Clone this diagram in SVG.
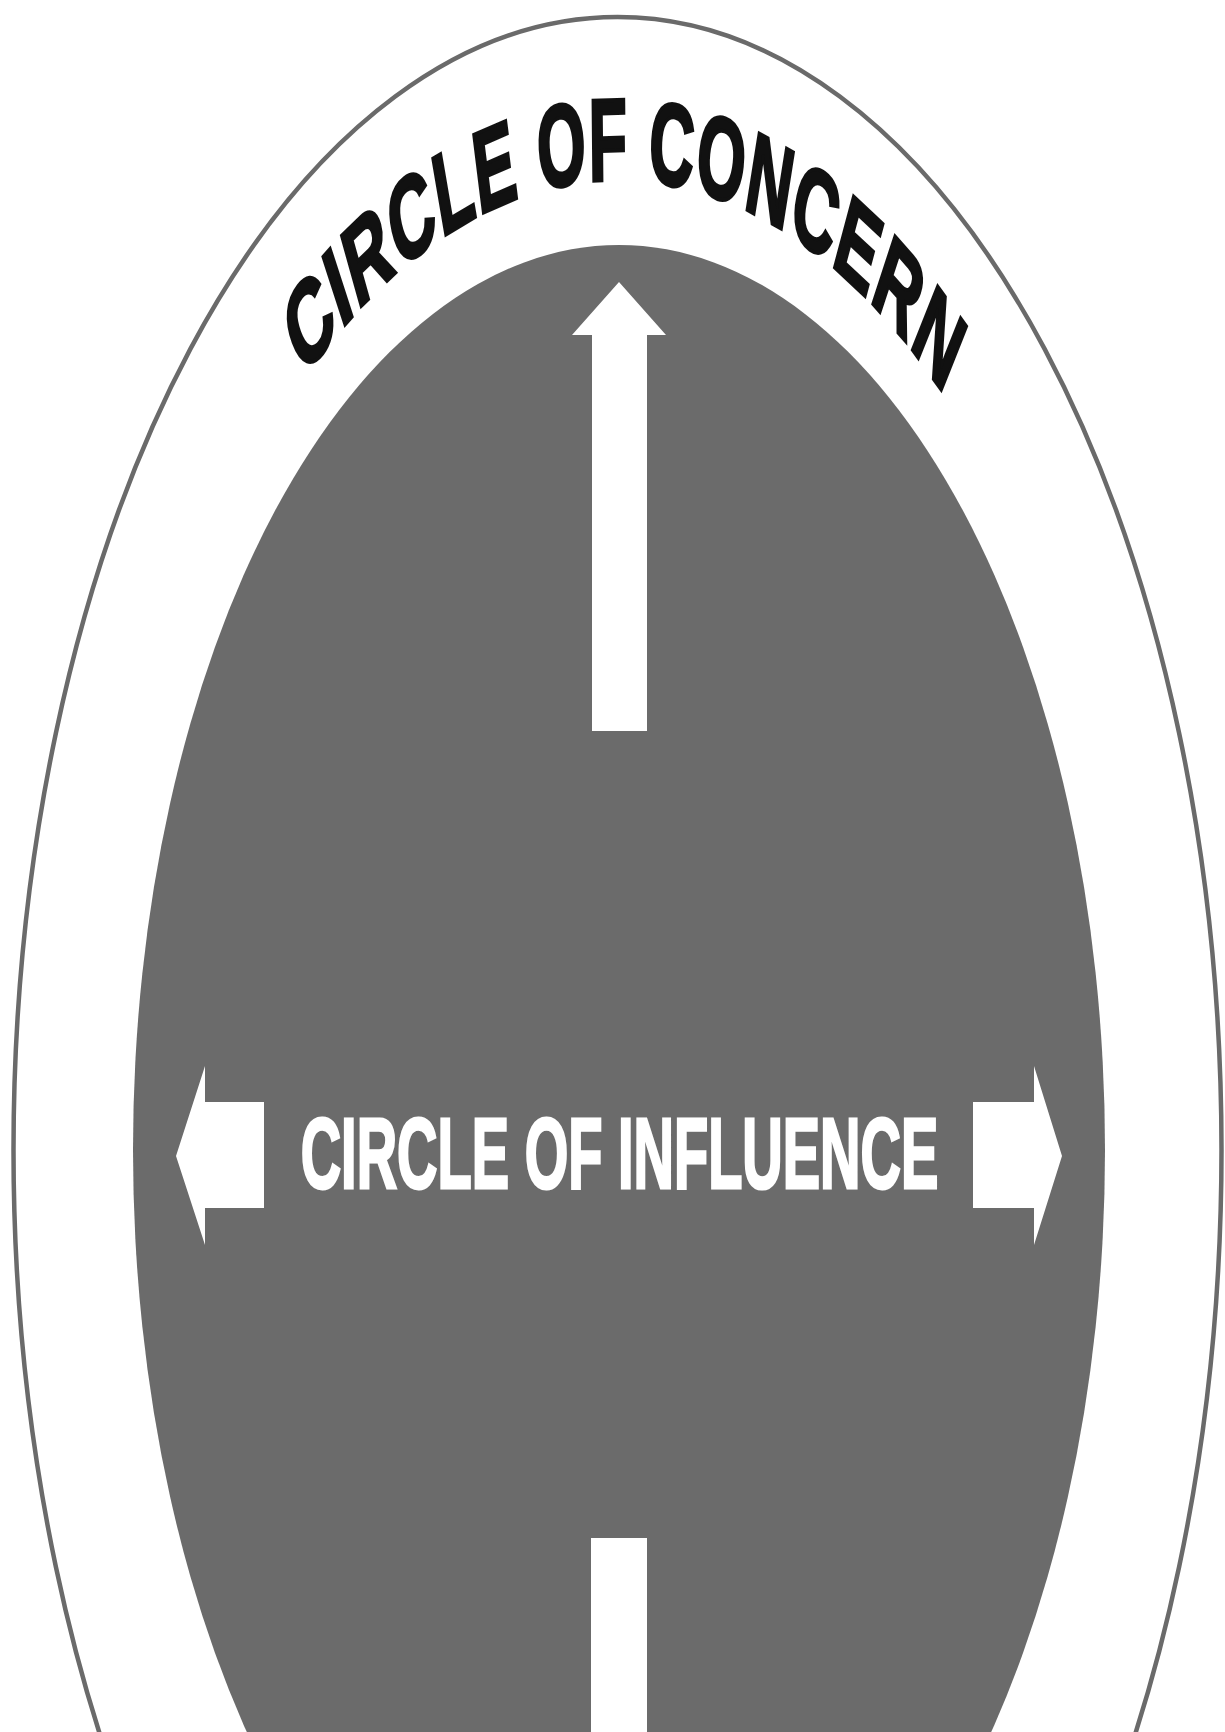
<svg xmlns="http://www.w3.org/2000/svg" width="1225" height="1732" viewBox="0 0 1225 1732">
  <defs>
    <style>
      .outer { fill: #ffffff; stroke: #6a6a6a; stroke-width: 4.5; }
      .inner { fill: #6b6b6b; }
      .arrow { fill: #ffffff; }
      .concern { font-family: "Liberation Sans", Arial, sans-serif; font-weight: bold; font-size: 116px; fill: #111111; stroke: #111111; stroke-width: 4px; letter-spacing: 3px; }
      .influence { font-family: "Liberation Sans", Arial, sans-serif; font-weight: bold; font-size: 100px; fill: #ffffff; stroke: #ffffff; stroke-width: 3px; }
    </style>
    <path id="concernArc" d="M -970,1150 A 970,970 0 0 1 970,1150"/>
  </defs>
  <rect x="0" y="0" width="1225" height="1732" fill="#ffffff"/>
  <g id="circle-of-concern">
    <ellipse class="outer" cx="617.5" cy="1150" rx="604" ry="1133"/>
    <g transform="translate(618,0) scale(0.535,1)">
      <text class="concern" text-anchor="middle"><textPath href="#concernArc" startOffset="50.5%">CIRCLE OF CONCERN</textPath></text>
    </g>
  </g>
  <g id="circle-of-influence">
    <ellipse class="inner" cx="619" cy="1150" rx="486" ry="905"/>
    <g transform="translate(619.5,1188) scale(0.56,1)">
      <text class="influence" x="0" y="0" text-anchor="middle">CIRCLE OF INFLUENCE</text>
    </g>
  </g>
  <g id="connectors">
    <polygon class="arrow" points="619,282 666,335 647,335 647,731 592,731 592,335 572,335"/>
    <rect class="arrow" x="591" y="1538" width="56" height="200"/>
    <polygon class="arrow" points="176,1156 205,1066 205,1102 264,1102 264,1208 205,1208 205,1245"/>
    <polygon class="arrow" points="1062,1156 1034,1066 1034,1102 973,1102 973,1208 1034,1208 1034,1245"/>
  </g>
</svg>
